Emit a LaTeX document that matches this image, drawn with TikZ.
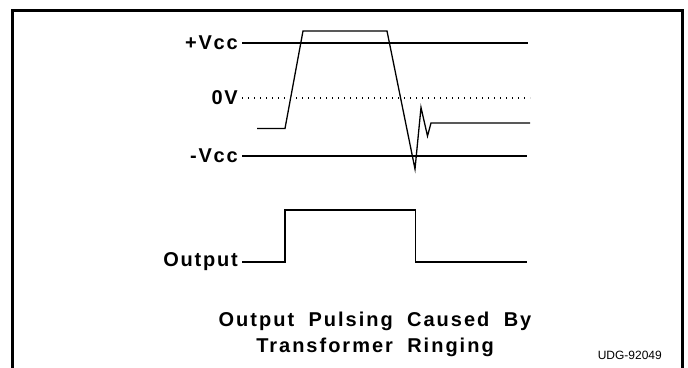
\documentclass[tikz,border=0pt]{standalone}
\usepackage{fontspec}
\setmainfont{Liberation Sans}
\newfontfamily\lblfont[LetterSpace=9]{Liberation Sans}
\newfontfamily\ttlfont[LetterSpace=10,WordSpace=1.9]{Liberation Sans}
\begin{document}
\begin{tikzpicture}[x=1pt,y=-1pt,
  lbl/.style={font=\lblfont\bfseries\fontsize{20}{22}\selectfont, anchor=east, inner sep=0pt},
  wave/.style={line width=1.3pt, line join=miter},
  ref/.style={line width=1.3pt},
  title/.style={font=\ttlfont\bfseries\fontsize{20}{26}\selectfont, align=center, inner sep=0pt}]
\useasboundingbox (0,0) rectangle (688,367);
\draw[line width=3pt] (12,368) -- (12,10.5) -- (682,10.5) -- (682,368);
% labels
\node[lbl] (vp) at (238,43) {+Vcc};
\node[lbl] (zv) at (238,98) {0V};
\node[lbl] (vm) at (238,156) {-Vcc};
\node[lbl] (out) at (238,262) {Output};
\coordinate (vpe) at (528,43);
\coordinate (zve) at (530,98);
\coordinate (vme) at (527,156);
\draw[ref] (vp.east) ++(4,0) -- (vpe);
\draw[line width=1.2pt, dash pattern=on 1.3pt off 4.7pt] (zv.east) ++(4,0) -- (zve);
\draw[ref] (vm.east) ++(4,0) -- (vme);
% input waveform
\draw[wave] (257,128.5) -- (285,128.5) -- (303,31) -- (387,31) -- (415,169) -- (421,107.5) -- (427.5,136) -- (431,123) -- (530,123);
% output waveform
\draw[wave] (out.east) ++(4,0) -- (285,262) -- (285,210) -- (415.5,210) -- (415.5,262) -- (527,262);
\node[title] (t) at (375,334) {Output Pulsing Caused By\\Transformer Ringing};
\node[font=\fontsize{12}{14}\selectfont, anchor=east, inner sep=0pt] (udg) at (662,355) {UDG-92049};
\end{tikzpicture}
\end{document}
